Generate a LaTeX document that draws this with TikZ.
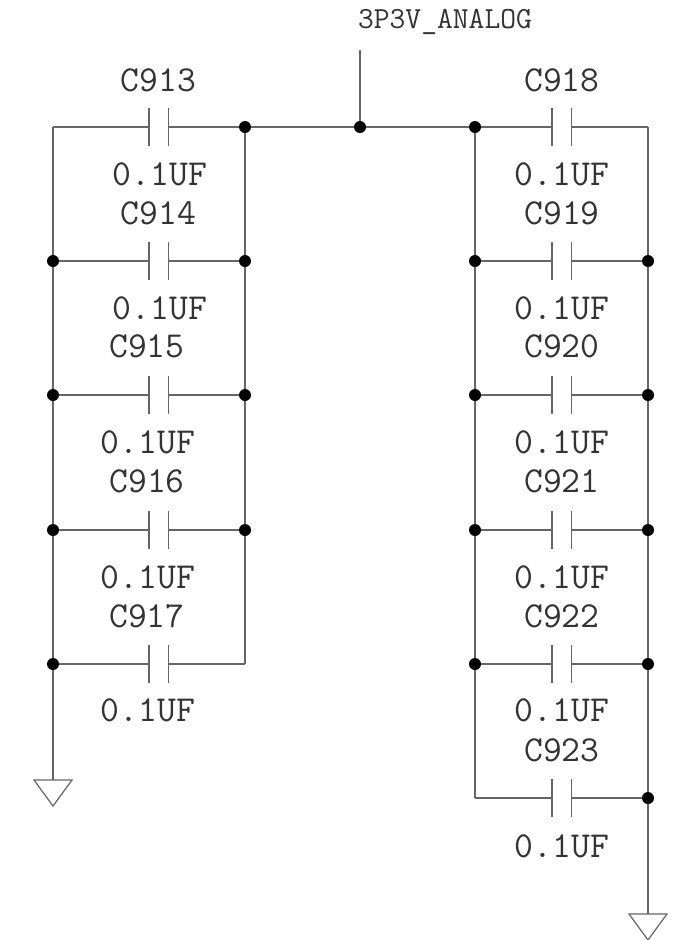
\documentclass[tikz,border=0pt]{standalone}
\definecolor{wire}{HTML}{666666}
\definecolor{ink}{HTML}{333333}
\tikzset{
  wireline/.style={draw=wire,line width=1.2pt},
  junction/.style={circle,fill=black,inner sep=0pt,minimum size=12pt},
  corner/.style={inner sep=0pt,minimum size=0pt},
  lab/.style={text=ink,inner sep=0pt,yshift=0.6pt,font=\ttfamily\fontsize{36.6}{36.6}\selectfont,anchor=center},
  netlab/.style={text=ink,inner sep=0pt,yshift=-1.5pt,font=\ttfamily\fontsize{30.7}{30.7}\selectfont,anchor=center},
  gnd/.style={draw=wire,line width=1.2pt,fill=white,line join=miter}
}
% \capac{name}{left x}{y}: two plates; coordinates name-a and name-b are the plate centres
\newcommand{\capac}[3]{%
  \coordinate (#1-a) at (#2,#3);
  \coordinate (#1-b) at (#2+19.5,#3);
  \draw[wireline] (#2,#3-19) -- (#2,#3+19);
  \draw[wireline] (#2+19.5,#3-19) -- (#2+19.5,#3+19);
}
\begin{document}
\begin{tikzpicture}[x=1pt,y=-1pt]
\useasboundingbox (0,0) rectangle (675,940);
\fill[white] (0,0) rectangle (675,940);
% rails' junctions
\node[corner] (L0) at (53,127) {};
\node[corner] (RR0) at (648,127) {};
\node[corner] (LL5) at (475,798) {};
\node[corner] (R4) at (245,664) {};
\node[corner] (net) at (360,50) {};
\foreach \n/\y in {1/261,2/395,3/530,4/664} \node[junction] (L\n) at (53,\y) {};
\foreach \n/\y in {1/261,2/395,3/530} \node[junction] (R\n) at (245,\y) {};
\foreach \n/\y in {1/261,2/395,3/530,4/664} \node[junction] (LL\n) at (475,\y) {};
\foreach \n/\y in {1/261,2/395,3/530,4/664,5/798} \node[junction] (RR\n) at (648,\y) {};
\node[junction] (top) at (360,127) {};
\node[junction] (LL0) at (475,127) {};
\node[junction] (RT) at (245,127) {};
% ground symbols
\coordinate (gl) at (53,780);
\coordinate (gr) at (648,914);
\draw[wireline] (L4) -- (gl);
\draw[wireline] (RR5) -- (gr);
\draw[gnd] (34,780) -- (72,780) -- (53,806) -- cycle;
\draw[gnd] (629,914) -- (667,914) -- (648,940) -- cycle;
% rails
\draw[wireline] (L0.center) -- (L1) -- (L2) -- (L3) -- (L4);
\draw[wireline] (RT) -- (R1) -- (R2) -- (R3) -- (R4.center);
\draw[wireline] (LL0) -- (LL1) -- (LL2) -- (LL3) -- (LL4) -- (LL5.center);
\draw[wireline] (RR0.center) -- (RR1) -- (RR2) -- (RR3) -- (RR4) -- (RR5);
\draw[wireline] (RT) -- (top) -- (LL0);
\draw[wireline] (net.center) -- (top);
% left caps
\capac{c913}{149}{127}
\capac{c914}{149}{261}
\capac{c915}{149}{395}
\capac{c916}{149}{530}
\capac{c917}{149}{664}
\draw[wireline] (L0.center) -- (c913-a) (c913-b) -- (RT);
\draw[wireline] (L1) -- (c914-a) (c914-b) -- (R1);
\draw[wireline] (L2) -- (c915-a) (c915-b) -- (R2);
\draw[wireline] (L3) -- (c916-a) (c916-b) -- (R3);
\draw[wireline] (L4) -- (c917-a) (c917-b) -- (R4.center);
% right caps
\capac{c918}{552}{127}
\capac{c919}{552}{261}
\capac{c920}{552}{395}
\capac{c921}{552}{530}
\capac{c922}{552}{664}
\capac{c923}{552}{798}
\draw[wireline] (LL0) -- (c918-a) (c918-b) -- (RR0.center);
\draw[wireline] (LL1) -- (c919-a) (c919-b) -- (RR1);
\draw[wireline] (LL2) -- (c920-a) (c920-b) -- (RR2);
\draw[wireline] (LL3) -- (c921-a) (c921-b) -- (RR3);
\draw[wireline] (LL4) -- (c922-a) (c922-b) -- (RR4);
\draw[wireline] (LL5.center) -- (c923-a) (c923-b) -- (RR5);
% labels
\node[netlab] (n0) at (445,20) {3P3V\_ANALOG};
\node[lab] (t913) at (158.5,81) {C913};
\node[lab] (v913) at (160,175) {0.1UF};
\node[lab] (t914) at (158.5,214) {C914};
\node[lab] (v914) at (160,309) {0.1UF};
\node[lab] (t915) at (147,347) {C915};
\node[lab] (v915) at (148,443) {0.1UF};
\node[lab] (t916) at (147,482) {C916};
\node[lab] (v916) at (148,578) {0.1UF};
\node[lab] (t917) at (147,617) {C917};
\node[lab] (v917) at (148,711) {0.1UF};
\node[lab] (t918) at (562,81) {C918};
\node[lab] (v918) at (562,175) {0.1UF};
\node[lab] (t919) at (562,214) {C919};
\node[lab] (v919) at (562,309) {0.1UF};
\node[lab] (t920) at (562,347) {C920};
\node[lab] (v920) at (562,443) {0.1UF};
\node[lab] (t921) at (562,482) {C921};
\node[lab] (v921) at (562,578) {0.1UF};
\node[lab] (t922) at (562,617) {C922};
\node[lab] (v922) at (562,711) {0.1UF};
\node[lab] (t923) at (562,751) {C923};
\node[lab] (v923) at (562,847) {0.1UF};
\end{tikzpicture}
\end{document}
